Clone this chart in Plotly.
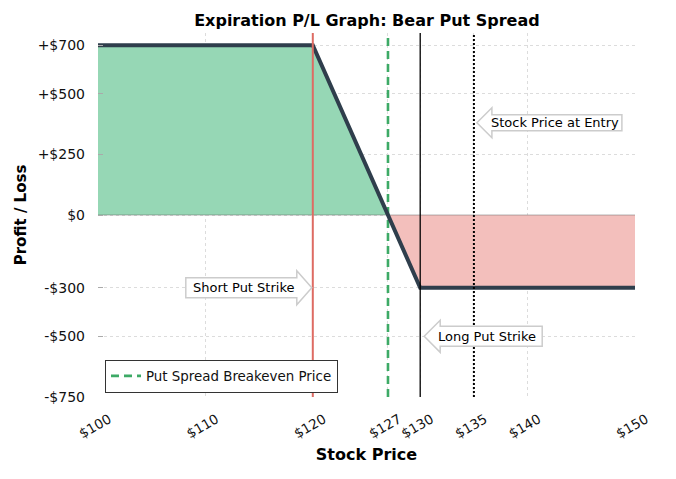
import plotly.graph_objects as go

# payoff data for the bear put spread at expiration
prices = [100, 120, 130, 150]
pnl = [700, 700, -300, -300]
breakeven = 127
short_strike = 120
long_strike = 130
entry_price = 135

x_ticks = [100, 110, 120, 127, 130, 135, 140, 150]
x_labels = ["$100", "$110", "$120", "$127", "$130", "$135", "$140", "$150"]
y_ticks = [700, 500, 250, 0, -300, -500, -750]
y_labels = ["+$700", "+$500", "+$250", "$0", "-$300", "-$500", "-$750"]

FONT = "DejaVu Sans"

fig = go.Figure()

# profit area (left of breakeven) and loss area (right of breakeven)
fig.add_trace(go.Scatter(x=prices[:2] + [breakeven], y=pnl[:2] + [0],
                         fill="tozeroy", fillcolor="#96d7b5", mode="lines",
                         line=dict(width=0), showlegend=False, hoverinfo="skip"))
fig.add_trace(go.Scatter(x=[breakeven] + prices[2:], y=[0] + pnl[2:],
                         fill="tozeroy", fillcolor="#f3bfbc", mode="lines",
                         line=dict(width=0), showlegend=False, hoverinfo="skip"))

# zero line
fig.add_trace(go.Scatter(x=[prices[0], prices[-1]], y=[0, 0], mode="lines",
                         line=dict(color="rgba(90,90,90,0.45)", width=1),
                         showlegend=False, hoverinfo="skip"))

# vertical reference lines
fig.add_vline(x=short_strike, line=dict(color="#de6b63", width=2))
fig.add_vline(x=long_strike, line=dict(color="black", width=1.3))
fig.add_vline(x=entry_price, line=dict(color="black", width=2, dash="2px,2px"))

fig.add_trace(go.Scatter(x=[breakeven, breakeven], y=[-750, 750], mode="lines",
                         name="Put Spread Breakeven Price",
                         line=dict(color="#3daa66", width=2.6, dash="8px,5px")))

# P/L line
fig.add_trace(go.Scatter(x=prices, y=pnl, mode="lines",
                         line=dict(color="#2f3e4c", width=4),
                         showlegend=False))

# arrow-shaped labels (drawn in pixel offsets from an anchor point)
def arrow_label(xa, ya, text, path, tx):
    fig.add_shape(type="path", xref="x", yref="y", xsizemode="pixel", ysizemode="pixel",
                  xanchor=xa, yanchor=ya, path=path,
                  line=dict(color="#cccccc", width=1.5), fillcolor="white", layer="above")
    fig.add_annotation(x=xa, y=ya, xref="x", yref="y", text=text, showarrow=False,
                       xshift=tx, font=dict(family=FONT, size=13, color="black"))

arrow_label(entry_price, 380, "Stock Price at Entry",
            "M 3 0 L 18 15 L 18 8 L 148 8 L 148 -8 L 18 -8 L 18 -15 Z", 81)
arrow_label(long_strike, -500, "Long Put Strike",
            "M 4 0 L 20 16 L 20 10 L 122 10 L 122 -10 L 20 -10 L 20 -16 Z", 67)
arrow_label(short_strike, -300, "Short Put Strike",
            "M -1 0 L -16 17 L -16 10 L -127 10 L -127 -10 L -16 -10 L -16 -17 Z", -69)

grid = dict(showgrid=True, gridcolor="#dcdcdc", griddash="dot", gridwidth=1,
            zeroline=False, showline=False, automargin=False)

# page body adds an 8px offset, so margins are trimmed by 8 on left/top
fig.update_layout(
    width=676, height=479,
    margin=dict(l=90, r=49, t=25, b=90),
    paper_bgcolor="white", plot_bgcolor="white",
    font=dict(family=FONT, size=14, color="#111111"),
    title=dict(text="<b>Expiration P/L Graph: Bear Put Spread</b>",
               x=0.531, xanchor="center", y=0.975, yanchor="middle",
               font=dict(family=FONT, size=16, color="black")),
    xaxis=dict(range=[100, 150], tickvals=x_ticks, ticktext=x_labels, tickangle=-30,
               tickfont=dict(size=13.5), ticklabelshift=11, ticklabelstandoff=11,
               title=dict(text="<b>Stock Price</b>", font=dict(size=16, color="black"), standoff=8),
               ticks="", **grid),
    yaxis=dict(range=[-750, 750], tickvals=y_ticks, ticktext=y_labels,
               ticklabelstandoff=12,
               title=dict(text="<b>Profit / Loss</b>", font=dict(size=15, color="black"), standoff=7),
               ticks="inside", ticklen=5, tickcolor="#aaaaaa", **grid),
    legend=dict(x=0.013, y=0.012, xanchor="left", yanchor="bottom",
                bordercolor="#333333", borderwidth=1, bgcolor="white",
                font=dict(family=FONT, size=13.4)),
    showlegend=True,
)

fig.write_html("out.html")
